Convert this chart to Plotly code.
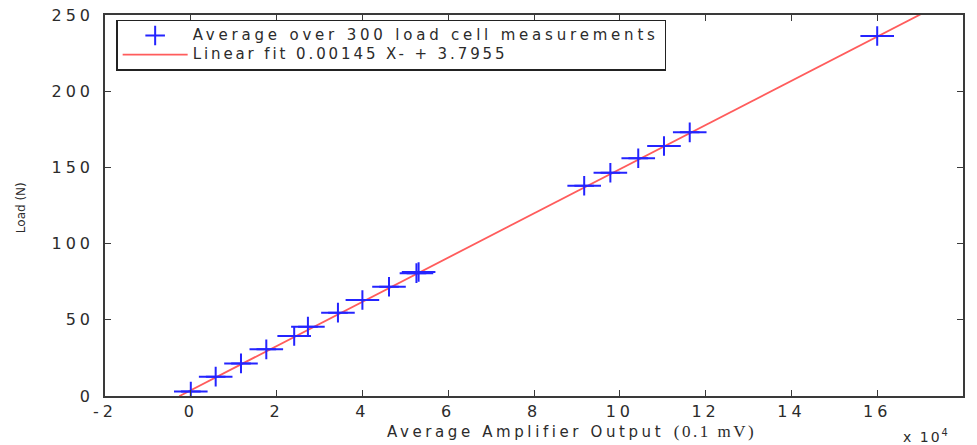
import plotly.graph_objects as go

# Averaged amplifier output (units of 0.1 mV) and corresponding load (N)
amp_output = [0, 5800, 11700, 17600, 24100, 27300, 34300, 40000, 46200,
              52600, 53100, 91700, 97800, 104300, 110300, 116300, 160000]
load_n = [3.0, 12.7, 21.4, 30.6, 39.4, 45.5, 54.7, 63.0, 71.7,
          80.6, 81.4, 138.0, 146.5, 156.0, 164.0, 173.0, 236.2]

# Linear fit coefficients and the x span the fit is drawn over
fit_slope = 0.00145
fit_intercept = 3.7955
fit_x = [-2700, 172000]

x_tick_vals = [-20000, 0, 20000, 40000, 60000, 80000, 100000, 120000, 140000, 160000, 180000]
x_tick_text = ["-2", "0", "2", "4", "6", "8", "10", "12", "14", "16", "18"]
y_tick_vals = [0, 50, 100, 150, 200, 250]
y_tick_text = ["0", "50", "100", "150", "200", "250"]

SANS = "DejaVu Sans"
SERIF = "Liberation Serif"
TEXT_COLOR = "#2b2b2b"


def spaced(s, px, size=None):
    style = f"letter-spacing:{px}px"
    if size:
        style += f";font-size:{size}px"
    return f'<span style="{style}">{s}</span>'


fit_y = [fit_slope * x + fit_intercept for x in fit_x]

fig = go.Figure()

# Fitted line
fig.add_trace(go.Scatter(
    x=fit_x, y=fit_y, mode="lines",
    line=dict(color="#ff5c5c", width=1.8),
    name=spaced("Linear fit 0.00145 X- + 3.7955", 2.9, 15),
    showlegend=True,
))

# Measurement crosses: wide horizontal arm plus a shorter vertical arm
fig.add_trace(go.Scatter(
    x=amp_output, y=load_n, mode="markers",
    marker=dict(symbol="line-ew", size=24, line=dict(color="#2424ff", width=2)),
    showlegend=False, hoverinfo="skip",
))
fig.add_trace(go.Scatter(
    x=amp_output, y=load_n, mode="markers",
    marker=dict(symbol="cross-thin", size=14, line=dict(color="#2424ff", width=2)),
    name=spaced("Average over 300 load cell measurements", 3.8, 15),
))

axis_common = dict(
    showline=True, linecolor="#3a3a3a", linewidth=1.6, mirror="ticks",
    ticks="inside", ticklen=6, tickwidth=1.4, tickcolor="#3a3a3a",
    showgrid=False, zeroline=False, automargin=False,
    tickfont=dict(family=SANS, size=16, color=TEXT_COLOR),
)

fig.update_xaxes(
    range=[-20000, 180000], tickmode="array", tickvals=x_tick_vals,
    ticktext=[spaced(t, 4) for t in x_tick_text], ticklabelstandoff=0,
    **axis_common,
)
fig.update_yaxes(
    range=[0, 250], tickmode="array", tickvals=y_tick_vals,
    ticktext=[spaced(t, 4) for t in y_tick_text], ticklabelstandoff=6,
    **axis_common,
)

# Axis titles and exponent note
fig.add_annotation(
    xref="paper", yref="paper", x=0.544, y=-0.092, xanchor="center", yanchor="middle",
    showarrow=False,
    text=spaced("Average Amplifier Output", 3.6)
    + f'  <span style="font-family:{SERIF};font-size:17px;letter-spacing:2.5px">(0.1 mV)</span>',
    font=dict(family=SANS, size=15, color=TEXT_COLOR),
)
fig.add_annotation(
    xref="paper", yref="paper", x=-0.097, y=0.495, xanchor="center", yanchor="middle",
    showarrow=False, text="Load (N)", textangle=-90,
    font=dict(family=SANS, size=12, color=TEXT_COLOR),
)
fig.add_annotation(
    xref="paper", yref="paper", x=0.958, y=-0.104, xanchor="center", yanchor="middle",
    showarrow=False, text=spaced("x 10<sup>4</sup>", 2),
    font=dict(family=SANS, size=14, color=TEXT_COLOR),
)

fig.update_layout(
    width=977, height=445,
    margin=dict(l=105, r=14, t=15, b=49),
    paper_bgcolor="white", plot_bgcolor="white",
    legend=dict(
        x=0.013, y=0.988, xanchor="left", yanchor="top",
        bgcolor="white", bordercolor="#222", borderwidth=1.5,
        font=dict(family=SANS, size=11, color=TEXT_COLOR),
        itemwidth=65, traceorder="reversed", tracegroupgap=0,
    ),
)

fig.write_html("out.html")
